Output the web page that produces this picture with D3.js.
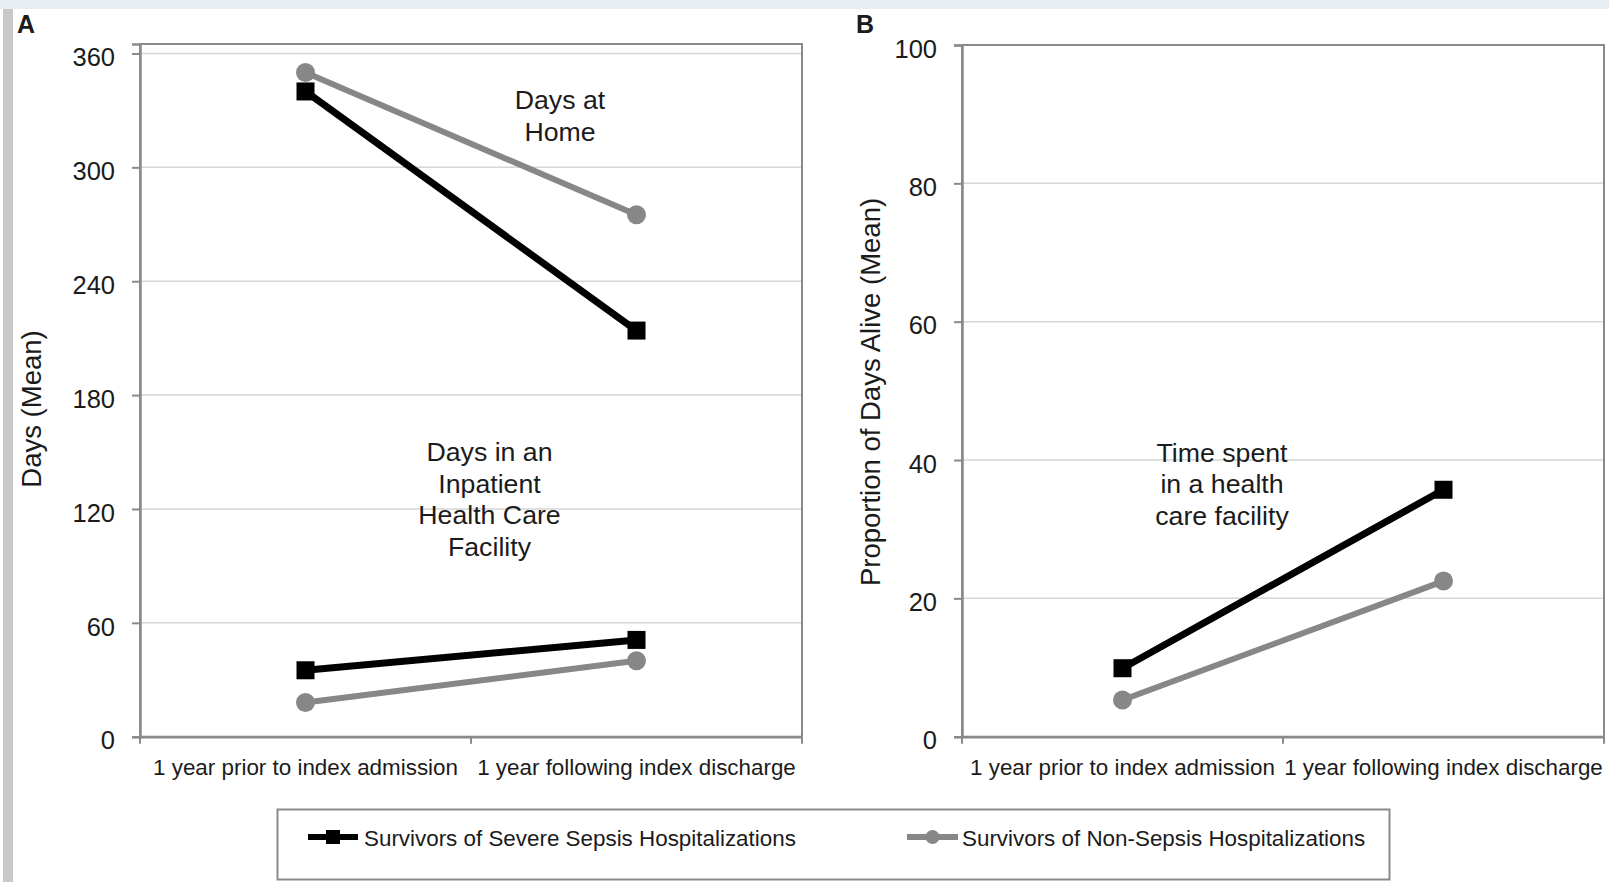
<!DOCTYPE html>
<html>
<head>
<meta charset="utf-8">
<script src="https://cdn.jsdelivr.net/npm/d3@7"></script>
<style>
  html, body { margin: 0; padding: 0; background: #fff; }
  svg { display: block; font-family: "Liberation Sans", Arial, Helvetica, sans-serif; }
</style>
</head>
<body>
<svg id="chart" width="1609" height="882"></svg>
<script>
// ---- data ----
const categories = ["1 year prior to index admission", "1 year following index discharge"];
const seriesNames = ["Survivors of Severe Sepsis Hospitalizations", "Survivors of Non-Sepsis Hospitalizations"];

const daysTicks = [0, 60, 120, 180, 240, 300, 360];
const proportionTicks = [0, 20, 40, 60, 80, 100];

// Panel A: mean days
const homeSepsis = [340, 214];
const homeNonSepsis = [350, 275];
const facilitySepsis = [35, 51];
const facilityNonSepsis = [18, 40];

// Panel B: proportion of days alive spent in a facility (mean)
const proportionSepsis = [9.9, 35.7];
const proportionNonSepsis = [5.3, 22.5];

// ---- styling ----
const INK = "#1b1b1b";
const SEPSIS = "#000000";
const NONSEPSIS = "#878787";
const FRAME = "#8a8a8a";
const GRID = "#d6d6d6";

const svg = d3.select("#chart");

// page chrome: light band on top, grey strip on the left
svg.append("rect").attr("x", 0).attr("y", 0).attr("width", 1609).attr("height", 9).attr("fill", "#e8edf2");
svg.append("rect").attr("x", 3).attr("y", 9).attr("width", 10).attr("height", 873).attr("fill", "#c9c9c9");

function drawPanel(cfg) {
  const g = svg.append("g");
  const x = d3.scaleBand().domain(categories).range([cfg.left, cfg.right]).padding(0);
  const y = d3.scaleLinear().domain([0, cfg.yMax]).range([cfg.bottom, cfg.top]);
  const cx = i => x(categories[i]) + x.bandwidth() / 2;

  // gridlines
  g.append("g").selectAll("line")
    .data(cfg.ticks.filter(t => t > 0))
    .join("line")
    .attr("x1", cfg.left).attr("x2", cfg.right)
    .attr("y1", d => y(d)).attr("y2", d => y(d))
    .attr("stroke", GRID).attr("stroke-width", 1.5);

  // plot frame
  g.append("rect")
    .attr("x", cfg.left).attr("y", cfg.top)
    .attr("width", cfg.right - cfg.left).attr("height", cfg.bottom - cfg.top)
    .attr("fill", "none").attr("stroke", FRAME).attr("stroke-width", 2);

  // y axis
  const yAxis = g.append("g")
    .attr("transform", `translate(${cfg.left},0)`)
    .call(d3.axisLeft(y).tickValues(cfg.ticks).tickSize(8).tickPadding(17).tickFormat(d3.format("d")));
  yAxis.select(".domain").attr("stroke", FRAME).attr("stroke-width", 2.5);
  yAxis.selectAll(".tick line").attr("stroke", FRAME).attr("stroke-width", 2);
  yAxis.selectAll(".tick text")
    .attr("font-size", 25.5).attr("fill", INK).attr("dy", "0.48em");

  // x axis: labels at category centres, ticks at category boundaries
  const xAxis = g.append("g")
    .attr("transform", `translate(0,${cfg.bottom})`)
    .call(d3.axisBottom(x).tickSize(0).tickPadding(0));
  xAxis.select(".domain").attr("stroke", FRAME).attr("stroke-width", 2.5);
  xAxis.selectAll(".tick text")
    .attr("font-size", 22.4).attr("fill", INK).attr("y", 38).attr("dy", 0);
  const bounds = categories.map(c => x(c)).concat([x(categories[categories.length - 1]) + x.bandwidth()]);
  xAxis.selectAll(".bound")
    .data(bounds)
    .join("line")
    .attr("class", "bound")
    .attr("x1", d => d).attr("x2", d => d)
    .attr("y1", 0).attr("y2", 7)
    .attr("stroke", FRAME).attr("stroke-width", 2);

  // axis title
  g.append("text")
    .attr("transform", `translate(${cfg.titleX},${cfg.titleY}) rotate(-90)`)
    .attr("text-anchor", "middle")
    .attr("dominant-baseline", "central")
    .attr("font-size", 27.5)
    .attr("fill", INK)
    .text(cfg.title);

  // series
  const line = d3.line().x((d, i) => cx(i)).y(d => y(d));
  cfg.pairs.forEach(p => {
    g.append("path").datum(p.sepsis)
      .attr("d", line).attr("fill", "none")
      .attr("stroke", SEPSIS).attr("stroke-width", 7);
    g.selectAll(null).data(p.sepsis).join("rect")
      .attr("x", (d, i) => cx(i) - 9).attr("y", d => y(d) - 9)
      .attr("width", 18).attr("height", 18)
      .attr("fill", SEPSIS);

    g.append("path").datum(p.nonSepsis)
      .attr("d", line).attr("fill", "none")
      .attr("stroke", NONSEPSIS).attr("stroke-width", 6);
    g.selectAll(null).data(p.nonSepsis).join("circle")
      .attr("cx", (d, i) => cx(i)).attr("cy", d => y(d))
      .attr("r", 9.5)
      .attr("fill", NONSEPSIS);
  });

  // annotations
  cfg.notes.forEach(n => {
    const t = g.append("text")
      .attr("text-anchor", "middle")
      .attr("font-size", 26.7)
      .attr("fill", INK);
    n.lines.forEach((s, i) => {
      t.append("tspan").attr("x", n.x).attr("y", n.y + i * 31.6).text(s);
    });
  });

  // panel letter
  g.append("text")
    .attr("x", cfg.letterX).attr("y", 33)
    .attr("font-size", 25).attr("font-weight", "bold").attr("fill", INK)
    .text(cfg.letter);
}

drawPanel({
  letter: "A", letterX: 17,
  left: 140, right: 802, top: 44, bottom: 736.7,
  yMax: 365, ticks: daysTicks,
  title: "Days (Mean)", titleX: 31, titleY: 409,
  pairs: [
    { sepsis: homeSepsis, nonSepsis: homeNonSepsis },
    { sepsis: facilitySepsis, nonSepsis: facilityNonSepsis }
  ],
  notes: [
    { x: 560, y: 109, lines: ["Days at", "Home"] },
    { x: 489.5, y: 461, lines: ["Days in an", "Inpatient", "Health Care", "Facility"] }
  ]
});

drawPanel({
  letter: "B", letterX: 856,
  left: 962, right: 1604, top: 45, bottom: 736.7,
  yMax: 100, ticks: proportionTicks,
  title: "Proportion of Days Alive (Mean)", titleX: 870, titleY: 392,
  pairs: [
    { sepsis: proportionSepsis, nonSepsis: proportionNonSepsis }
  ],
  notes: [
    { x: 1222, y: 461.7, lines: ["Time spent", "in a health", "care facility"] }
  ]
});

// legend
const legend = svg.append("g");
legend.append("rect")
  .attr("x", 277.5).attr("y", 809.5).attr("width", 1112).attr("height", 70)
  .attr("fill", "#fff").attr("stroke", FRAME).attr("stroke-width", 2);

const legendItems = [
  { name: seriesNames[0], color: SEPSIS, shape: "square", x0: 308, x1: 358, tx: 364 },
  { name: seriesNames[1], color: NONSEPSIS, shape: "circle", x0: 907, x1: 958, tx: 962 }
];
legendItems.forEach(it => {
  const ly = 837;
  legend.append("line")
    .attr("x1", it.x0).attr("x2", it.x1).attr("y1", ly).attr("y2", ly)
    .attr("stroke", it.color).attr("stroke-width", 6);
  const mx = (it.x0 + it.x1) / 2;
  if (it.shape === "square") {
    legend.append("rect").attr("x", mx - 7).attr("y", ly - 7).attr("width", 14).attr("height", 14).attr("fill", it.color);
  } else {
    legend.append("circle").attr("cx", mx).attr("cy", ly).attr("r", 7).attr("fill", it.color);
  }
  legend.append("text")
    .attr("x", it.tx).attr("y", 846)
    .attr("font-size", 22.4).attr("fill", INK)
    .text(it.name);
});
</script>
</body>
</html>
